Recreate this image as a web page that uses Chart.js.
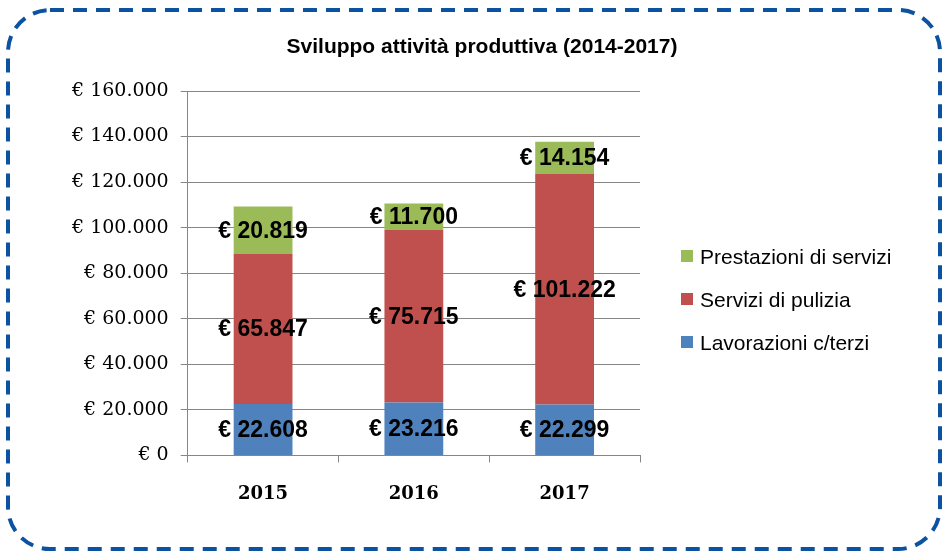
<!DOCTYPE html>
<html>
<head>
<meta charset="utf-8">
<script src="https://cdn.jsdelivr.net/npm/chart.js@4.4.1/dist/chart.umd.min.js"></script>
<style>
    body { margin: 0; background: #fff; }
    #wrap { position: relative; width: 945px; height: 552px; }
    #title { position: absolute; left: 282px; width: 400px; top: 34px; text-align: center; white-space: nowrap;
             font-family: "Liberation Sans", Arial, sans-serif; font-size: 21px; font-weight: bold; color: #000; }
    #legend { position: absolute; left: 681px; top: 235px; font-family: "Liberation Sans", Arial, sans-serif; font-size: 21px; color: #000; }
    .legend-item { height: 43px; line-height: 43px; white-space: nowrap; }
    .legend-box { display: inline-block; width: 12px; height: 12px; margin-right: 7px; vertical-align: middle; position: relative; top: -2px; }
</style>
</head>
<body>
<div id="wrap">
    <canvas id="chart" width="945" height="552"></canvas>
    <div id="title">Sviluppo attività produttiva (2014-2017)</div>
    <div id="legend"></div>
</div>
<script>
    // Chart data
    const years = ['2015', '2016', '2017'];
    const lavorazioni = [22608, 23216, 22299];
    const pulizia = [65847, 75715, 101222];
    const prestazioni = [20819, 11700, 14154];
    const seriesNames = ['Lavorazioni c/terzi', 'Servizi di pulizia', 'Prestazioni di servizi'];
    const seriesColors = ['#4F81BD', '#C0504D', '#9BBB59'];
    const yTicks = [0, 20000, 40000, 60000, 80000, 100000, 120000, 140000, 160000];

    function fmt(v) {
        return String(v).replace(/\B(?=(\d{3})+(?!\d))/g, '.');
    }

    // Dashed rounded frame around the whole chart
    const framePlugin = {
        id: 'frame',
        afterDraw(chart) {
            const ctx = chart.ctx;
            ctx.save();
            ctx.strokeStyle = '#0B52A0';
            ctx.lineWidth = 4;
            ctx.setLineDash([14, 9]);
            ctx.beginPath();
            ctx.roundRect(8, 10, 932, 539, 42);
            ctx.stroke();
            ctx.restore();
        }
    };

    // Value labels in the middle of every segment
    const barLabels = {
        id: 'barLabels',
        afterDatasetsDraw(chart) {
            const ctx = chart.ctx;
            ctx.save();
            ctx.font = 'bold 23px "Liberation Sans", Arial, sans-serif';
            ctx.fillStyle = '#000';
            ctx.textAlign = 'center';
            ctx.textBaseline = 'middle';
            chart.data.datasets.forEach(function(ds, i) {
                chart.getDatasetMeta(i).data.forEach(function(bar, j) {
                    const p = bar.getProps(['x', 'y', 'base'], true);
                    ctx.fillText('€ ' + fmt(ds.data[j]), p.x, (p.y + p.base) / 2 + 1);
                });
            });
            ctx.restore();
        }
    };

    const seriesData = [lavorazioni, pulizia, prestazioni];
    const datasets = seriesData.map(function(d, i) {
        return {
            label: seriesNames[i],
            data: d,
            backgroundColor: seriesColors[i],
            barPercentage: 0.39,
            categoryPercentage: 1.0
        };
    });

    const ctx = document.getElementById('chart').getContext('2d');
    const chart = new Chart(ctx, {
        type: 'bar',
        data: { labels: years, datasets: datasets },
        options: {
            responsive: false,
            animation: false,
            layout: { padding: { left: 60, right: 305, top: 91, bottom: 26 } },
            plugins: {
                legend: { display: false },
                tooltip: { enabled: false },
                title: { display: false }
            },
            scales: {
                x: {
                    stacked: true,
                    grid: { drawOnChartArea: false, color: '#868686', tickLength: 7 },
                    border: { color: '#868686' },
                    ticks: {
                        color: '#000',
                        padding: 21,
                        font: { family: '"DejaVu Serif", serif', size: 18, weight: 'bold' }
                    }
                },
                y: {
                    stacked: true,
                    min: 0,
                    max: 160000,
                    afterBuildTicks: function(axis) {
                        axis.ticks = yTicks.map(function(v) { return { value: v }; });
                    },
                    grid: { color: '#868686', tickLength: 7 },
                    border: { color: '#868686' },
                    ticks: {
                        color: '#000',
                        padding: 12,
                        font: { family: '"DejaVu Serif", serif', size: 19 },
                        callback: function(v) { return '€ ' + fmt(v); }
                    }
                }
            }
        },
        plugins: [barLabels, framePlugin]
    });

    // Legend, top entry is the top segment
    let html = '';
    for (let i = seriesNames.length - 1; i >= 0; i--) {
        html += '<div class="legend-item"><span class="legend-box" style="background:' + seriesColors[i] + '"></span>' + seriesNames[i] + '</div>';
    }
    document.getElementById('legend').innerHTML = html;
</script>
</body>
</html>
